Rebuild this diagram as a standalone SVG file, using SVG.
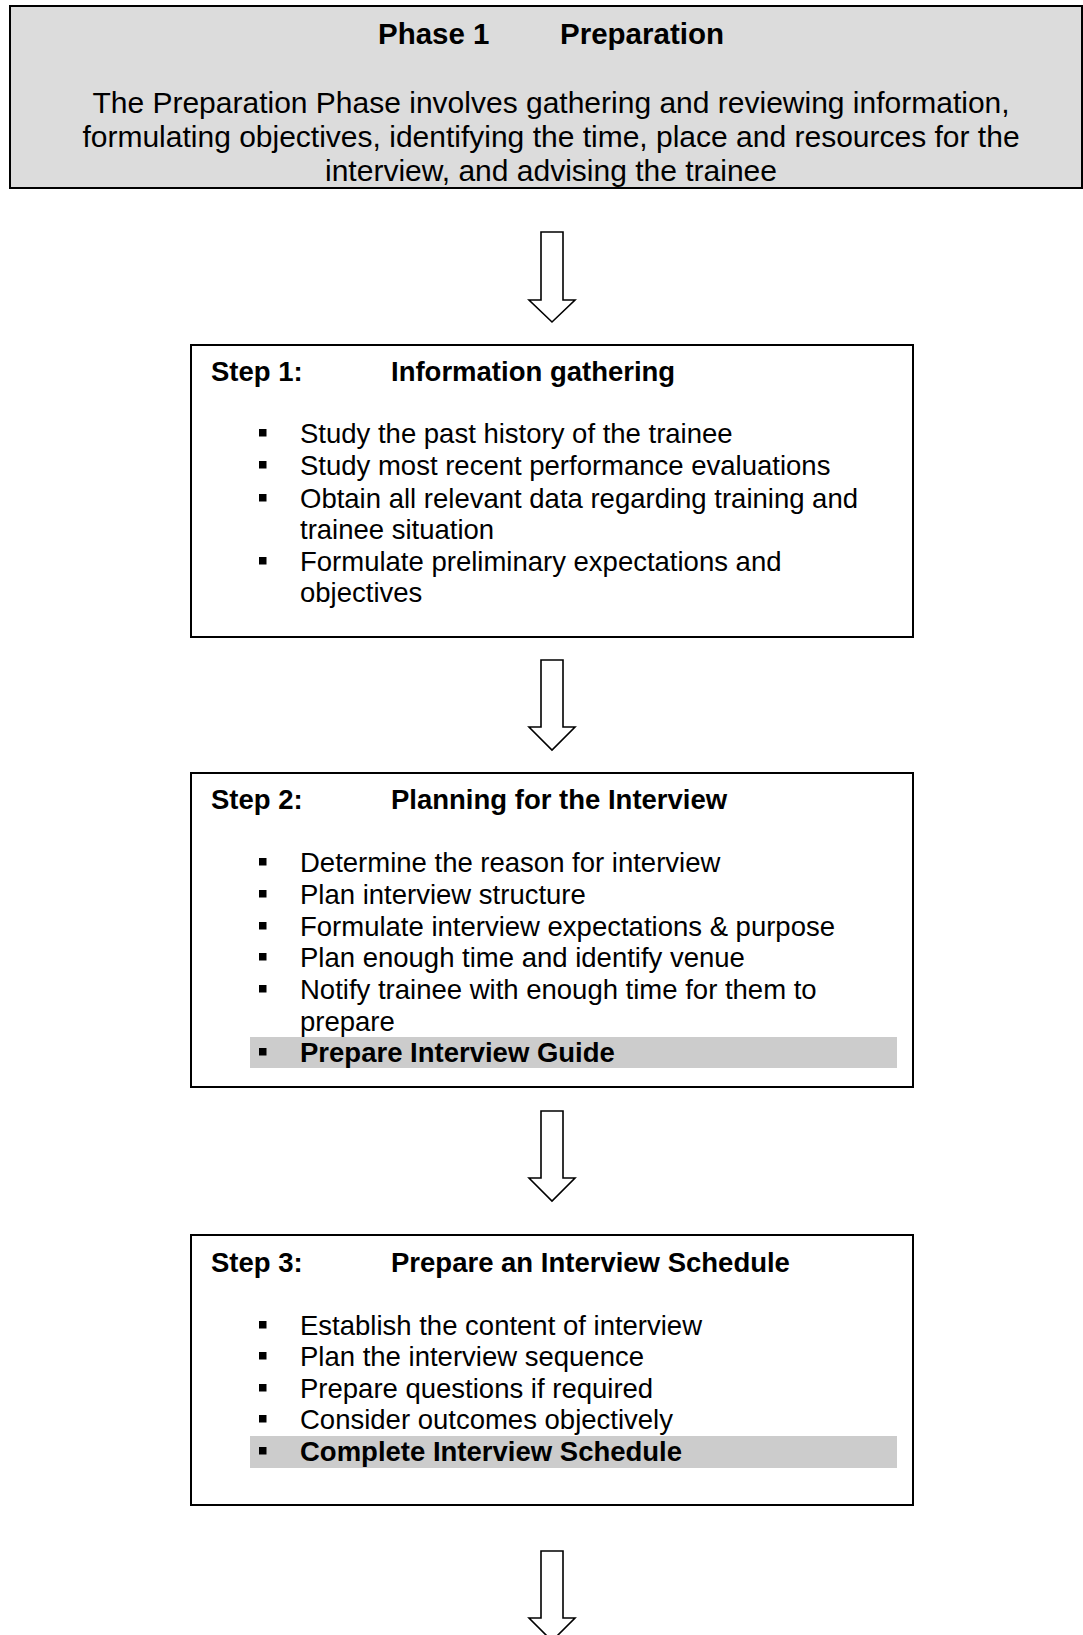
<svg xmlns="http://www.w3.org/2000/svg" width="1083" height="1635" viewBox="0 0 1083 1635">
<defs>
<style>
text{font-family:"Liberation Sans",Arial,sans-serif;fill:#000;}
.t{font-size:27.5px;}
.b{font-weight:bold;}
.ph{font-size:29.5px;font-weight:bold;}
.body{font-size:30px;text-anchor:middle;}
.box{fill:#fff;stroke:#000;stroke-width:2;}
.gbox{fill:#dcdcdc;stroke:#000;stroke-width:2;}
.hl{fill:#cccccc;stroke:none;}
.bul{fill:#000;}
.arrow{fill:#fff;stroke:#000;stroke-width:1.6;stroke-linejoin:miter;}
</style>
</defs>
<rect width="1083" height="1635" fill="#fff"/>
<g id="phase1">
<rect class="gbox" x="10" y="6" width="1072" height="182"/>
<text class="ph" x="378" y="44">Phase 1</text>
<text class="ph" x="560" y="44">Preparation</text>
<text class="body" x="551" y="113">The Preparation Phase involves gathering and reviewing information,</text>
<text class="body" x="551" y="147">formulating objectives, identifying the time, place and resources for the</text>
<text class="body" x="551" y="181">interview, and advising the trainee</text>
</g>
<g id="step1">
<rect class="box" x="191" y="345" width="722" height="292"/>
<text class="t b" x="211" y="381">Step 1:</text>
<text class="t b" x="391" y="381">Information gathering</text>
<rect class="bul" x="259" y="429" width="7.5" height="7.5"/>
<text class="t" x="300" y="443">Study the past history of the trainee</text>
<rect class="bul" x="259" y="461" width="7.5" height="7.5"/>
<text class="t" x="300" y="475">Study most recent performance evaluations</text>
<rect class="bul" x="259" y="494" width="7.5" height="7.5"/>
<text class="t" x="300" y="508">Obtain all relevant data regarding training and</text>
<text class="t" x="300" y="539">trainee situation</text>
<rect class="bul" x="259" y="557" width="7.5" height="7.5"/>
<text class="t" x="300" y="571">Formulate preliminary expectations and</text>
<text class="t" x="300" y="602">objectives</text>
</g>
<g id="step2">
<rect class="box" x="191" y="773" width="722" height="314"/>
<rect class="hl" x="250" y="1037" width="647" height="31"/>
<text class="t b" x="211" y="809">Step 2:</text>
<text class="t b" x="391" y="809">Planning for the Interview</text>
<rect class="bul" x="259" y="858" width="7.5" height="7.5"/>
<text class="t" x="300" y="872">Determine the reason for interview</text>
<rect class="bul" x="259" y="890" width="7.5" height="7.5"/>
<text class="t" x="300" y="904">Plan interview structure</text>
<rect class="bul" x="259" y="922" width="7.5" height="7.5"/>
<text class="t" x="300" y="936">Formulate interview expectations &amp; purpose</text>
<rect class="bul" x="259" y="953" width="7.5" height="7.5"/>
<text class="t" x="300" y="967">Plan enough time and identify venue</text>
<rect class="bul" x="259" y="985" width="7.5" height="7.5"/>
<text class="t" x="300" y="999">Notify trainee with enough time for them to</text>
<text class="t" x="300" y="1031">prepare</text>
<rect class="bul" x="259" y="1048" width="7.5" height="7.5"/>
<text class="t b" x="300" y="1062">Prepare Interview Guide</text>
</g>
<g id="step3">
<rect class="box" x="191" y="1235" width="722" height="270"/>
<rect class="hl" x="250" y="1436" width="647" height="32"/>
<text class="t b" x="211" y="1272">Step 3:</text>
<text class="t b" x="391" y="1272">Prepare an Interview Schedule</text>
<rect class="bul" x="259" y="1321" width="7.5" height="7.5"/>
<text class="t" x="300" y="1335">Establish the content of interview</text>
<rect class="bul" x="259" y="1352" width="7.5" height="7.5"/>
<text class="t" x="300" y="1366">Plan the interview sequence</text>
<rect class="bul" x="259" y="1384" width="7.5" height="7.5"/>
<text class="t" x="300" y="1398">Prepare questions if required</text>
<rect class="bul" x="259" y="1415" width="7.5" height="7.5"/>
<text class="t" x="300" y="1429">Consider outcomes objectively</text>
<rect class="bul" x="259" y="1447" width="7.5" height="7.5"/>
<text class="t b" x="300" y="1461">Complete Interview Schedule</text>
</g>
<g id="connectors">
<path class="arrow" d="M541,232 H563 V300 H575 L552,322 L529,300 H541 Z"/>
<path class="arrow" d="M541,660 H563 V727 H575 L552,750 L529,727 H541 Z"/>
<path class="arrow" d="M541,1111 H563 V1178 H575 L552,1201 L529,1178 H541 Z"/>
<path class="arrow" d="M541,1551 H563 V1618 H575 L552,1641 L529,1618 H541 Z"/>
</g>
</svg>
